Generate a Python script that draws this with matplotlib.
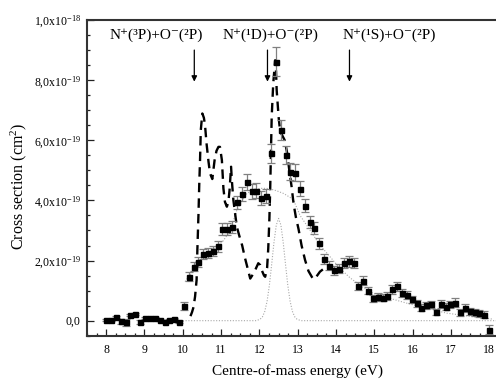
import matplotlib
matplotlib.use("Agg")
import matplotlib.pyplot as plt
from matplotlib.ticker import FixedLocator, MultipleLocator

plt.rcParams['font.family'] = ['Liberation Serif', 'DejaVu Serif']
plt.rcParams['mathtext.fontset'] = 'custom'
plt.rcParams['mathtext.rm'] = 'Liberation Serif'
plt.rcParams['mathtext.it'] = 'Liberation Serif:italic'
plt.rcParams['mathtext.default'] = 'regular'

# ---- measured cross section (units of 1e-19 cm^2) ----
energy = [8.00, 8.13, 8.25, 8.38, 8.51, 8.63, 8.75, 8.89, 9.02, 9.14, 9.27, 9.40,
          9.53, 9.65, 9.78, 9.90, 10.03, 10.16, 10.28, 10.40, 10.53, 10.66, 10.78,
          10.91, 11.03, 11.16, 11.29, 11.42, 11.54, 11.67, 11.80, 11.92, 12.05,
          12.17, 12.30, 12.43, 12.56, 12.69, 12.81, 12.93, 13.06, 13.19, 13.31,
          13.43, 13.56, 13.69, 13.82, 13.95, 14.08, 14.21, 14.33, 14.46, 14.58,
          14.71, 14.83, 14.96, 15.09, 15.22, 15.34, 15.47, 15.59, 15.72, 15.84,
          15.97, 16.10, 16.22, 16.34, 16.47, 16.61, 16.73, 16.86, 16.98, 17.11,
          17.24, 17.37, 17.50, 17.62, 17.74, 17.87, 17.99]
sigma = [0.01, 0.03, 0.13, -0.02, -0.05, 0.18, 0.23, -0.04, 0.08, 0.09, 0.10, 0.01,
         -0.03, 0.03, 0.07, -0.04, 0.49, 1.46, 1.79, 1.95, 2.22, 2.25, 2.32,
         2.47, 3.05, 3.05, 3.12, 3.94, 4.21, 4.61, 4.31, 4.32, 4.08,
         4.14, 5.56, 8.61, 6.34, 5.50, 4.96, 4.92, 4.39, 3.83, 3.28,
         3.09, 2.57, 2.05, 1.83, 1.68, 1.73, 1.92, 1.98, 1.92, 1.16,
         1.33, 1.00, 0.75, 0.79, 0.76, 0.82, 1.04, 1.14, 0.92, 0.85,
         0.71, 0.58, 0.43, 0.51, 0.54, 0.28, 0.56, 0.47, 0.54, 0.59,
         0.28, 0.43, 0.31, 0.28, 0.25, 0.20, -0.30]
sigma_err = [0.03, 0.03, 0.04, 0.08, 0.12, 0.04, 0.04, 0.06, 0.03, 0.03, 0.03, 0.03,
             0.03, 0.03, 0.03, 0.03, 0.13, 0.15, 0.15, 0.17, 0.18, 0.18, 0.18,
             0.18, 0.20, 0.20, 0.20, 0.22, 0.23, 0.27, 0.25, 0.25, 0.24,
             0.24, 0.30, 0.48, 0.33, 0.30, 0.28, 0.28, 0.25, 0.23, 0.20,
             0.20, 0.18, 0.17, 0.16, 0.15, 0.15, 0.17, 0.18, 0.18, 0.13,
             0.15, 0.12, 0.12, 0.12, 0.12, 0.12, 0.15, 0.16, 0.14, 0.13,
             0.12, 0.12, 0.12, 0.12, 0.13, 0.10, 0.13, 0.13, 0.13, 0.15,
             0.12, 0.14, 0.12, 0.12, 0.12, 0.12, 0.15]

# ---- dashed curve ----
dash_x = [10.20, 10.24, 10.28, 10.32, 10.36, 10.38, 10.41, 10.43, 10.45, 10.47,
          10.51, 10.55, 10.58, 10.62, 10.67, 10.71, 10.77, 10.83, 10.88, 10.93,
          10.97, 11.02, 11.06, 11.10, 11.15, 11.19, 11.22, 11.26, 11.28, 11.32,
          11.41, 11.48, 11.55, 11.62, 11.68, 11.76, 11.86, 11.97, 12.02, 12.06,
          12.12, 12.15, 12.20, 12.23, 12.26, 12.28, 12.30, 12.32, 12.36, 12.41,
          12.43, 12.45, 12.50, 12.54, 12.60, 12.66, 12.72, 12.78, 12.84, 12.89,
          12.95, 13.02, 13.10, 13.19, 13.28, 13.37, 13.41, 13.45, 13.58, 13.70, 13.80]
dash_y = [0.15, 0.28, 0.45, 0.80, 1.35, 2.35, 3.57, 4.56, 5.34, 6.34,
          6.89, 6.75, 6.50, 5.89, 5.30, 4.90, 4.71, 5.34, 5.65, 5.78,
          5.78, 5.34, 4.40, 3.95, 3.79, 3.95, 4.34, 5.12, 4.67, 4.01,
          3.12, 2.80, 2.50, 2.10, 1.80, 1.40, 1.60, 1.91, 1.85, 1.68,
          1.50, 1.46, 1.75, 2.40, 3.40, 4.34, 5.56, 6.78, 7.88, 8.66,
          8.40, 7.67, 6.78, 6.30, 6.15, 6.00, 5.60, 5.00, 4.45, 3.90,
          3.45, 3.05, 2.50, 2.02, 1.65, 1.45, 1.38, 1.40, 1.63, 1.75, 1.85]

# ---- broad dotted curve ----
broad_x = [10.06, 10.20, 10.40, 10.54, 10.70, 10.89, 11.05, 11.19, 11.30, 11.41,
           11.55, 11.67, 11.84, 12.02, 12.19, 12.28, 12.45, 12.63, 12.80, 12.89,
           13.06, 13.32, 13.58, 13.84, 14.10, 14.37, 14.71, 14.97, 15.41, 15.85,
           16.37, 16.89, 17.58, 18.10]
broad_y = [1.30, 1.55, 1.91, 2.13, 2.28, 2.46, 2.65, 2.90, 3.25, 3.68,
           4.00, 4.23, 4.35, 4.40, 4.40, 4.38, 4.32, 4.23, 4.10, 4.01,
           3.50, 3.01, 2.51, 2.13, 1.74, 1.42, 1.10, 0.91, 0.74, 0.58,
           0.41, 0.25, 0.13, 0.05]

# ---- narrow dotted peak ----
narrow_x = [10.0, 11.9, 11.96, 12.02, 12.08, 12.14, 12.20, 12.26, 12.32, 12.38,
            12.44, 12.50, 12.56, 12.62, 12.68, 12.74, 12.80, 12.86, 12.92, 12.98,
            13.04, 13.10, 18.2]
narrow_y = [0.0, 0.0, 0.02, 0.05, 0.13, 0.31, 0.65, 1.18, 1.88, 2.61,
            3.18, 3.40, 3.18, 2.61, 1.88, 1.18, 0.65, 0.31, 0.13, 0.05,
            0.02, 0.0, 0.0]

# ---- thresholds ----
thresh_x = [10.30, 12.21, 14.35]
thresh_labels = ['N\u207a(\u00b3P)+O\u207b(\u00b2P)', 'N\u207a(\u00b9D)+O\u207b(\u00b2P)',
                 'N\u207a(\u00b9S)+O\u207b(\u00b2P)']
label_x = [9.30, 12.30, 15.39]

y_ticks = [0, 2, 4, 6, 8, 10]
y_ticklabels = ['0,0', r'2,0x10$^{-19}$', r'4,0x10$^{-19}$', r'6,0x10$^{-19}$',
                r'8,0x10$^{-19}$', r'1,0x10$^{-18}$']
x_ticks = [8, 9, 10, 11, 12, 13, 14, 15, 16, 17, 18]

fig = plt.figure(figsize=(4.96, 3.80), dpi=100)
ax = fig.add_axes([87/496, 44.3/380, (508.5-87)/496, (335.7-20)/380])

ax.plot(narrow_x, narrow_y, color='#a8a8a8', lw=0.8, linestyle=(0, (1, 1.5)), zorder=1)
ax.plot(broad_x, broad_y, color='#a8a8a8', lw=0.8, linestyle=(0, (1, 1.5)), zorder=1)
ax.plot(dash_x, dash_y, color='black', lw=1.7, linestyle=(0, (4, 2.6)), zorder=3)
ax.errorbar(energy, sigma, yerr=sigma_err, fmt='s', color='black', markersize=3.6,
            ecolor='#808080', elinewidth=0.9, capsize=3.2, capthick=0.9, zorder=4)

for xa in thresh_x:
    ax.annotate('', xy=(xa, 7.95), xytext=(xa, 9.0),
                arrowprops=dict(arrowstyle='-|>', color='black', lw=0.9,
                                mutation_scale=8, shrinkA=0, shrinkB=0))
for lx, lab in zip(label_x, thresh_labels):
    ax.text(lx, 9.49, lab, ha='center', va='center', fontsize=11,
            family=['Liberation Serif', 'DejaVu Serif'])

ax.set_xlim(7.5, 18.5)
ax.set_ylim(-0.5, 10.0)
ax.xaxis.set_major_locator(FixedLocator(x_ticks))
ax.xaxis.set_minor_locator(MultipleLocator(0.25))
ax.yaxis.set_major_locator(FixedLocator(y_ticks))
ax.set_yticklabels(y_ticklabels)
ax.yaxis.set_minor_locator(MultipleLocator(0.5))
ax.tick_params(which='both', direction='in', top=False, right=False, labelsize=8.5,
               width=0.9, color='#222222')
ax.tick_params(which='major', length=4.8)
ax.tick_params(which='minor', length=2.5)
ax.tick_params(axis='x', pad=6)
ax.tick_params(axis='y', pad=4.5)
for sp in ax.spines.values():
    sp.set_linewidth(1.5)
    sp.set_color('#333333')

ax.set_xlabel('Centre-of-mass energy (eV)', fontsize=11, labelpad=5.5)
ax.set_ylabel('Cross section (cm$^2$)', fontsize=11.5)
ax.yaxis.set_label_coords(-0.137, 0.474)

fig.savefig('out.png', dpi=100)
